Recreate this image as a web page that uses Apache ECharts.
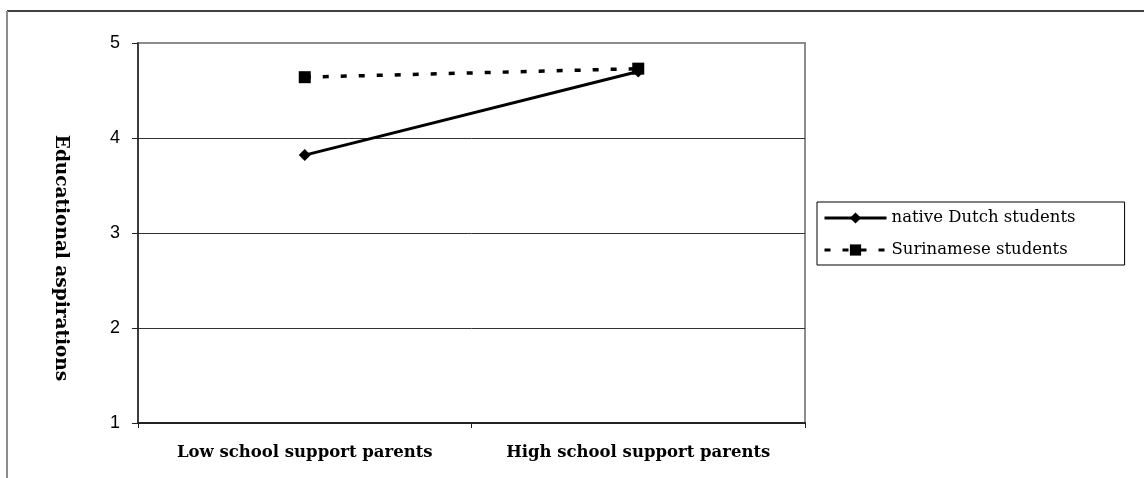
<!DOCTYPE html>
<html>
<head>
<meta charset="utf-8">
<script src="https://cdn.jsdelivr.net/npm/echarts@6/dist/echarts.min.js"></script>
<style>
  html, body { margin: 0; padding: 0; background: #fff; }
  #chart { width: 1144px; height: 478px; }
</style>
</head>
<body>
<div id="chart"></div>
<script>
// Educational aspirations by level of parental school support
const categories = ['Low school support parents', 'High school support parents'];
const dutchValues = [3.82, 4.70];
const surinameseValues = [4.64, 4.73];
const seriesNames = ['native Dutch students', 'Surinamese students'];
const yTicks = { min: 1, max: 5, step: 1 };
const yTitle = 'Educational aspirations';

const serif = 'DejaVu Serif';
const sans = 'Liberation Sans';

const chart = echarts.init(document.getElementById('chart'), null, { renderer: 'canvas' });

chart.setOption({
  animation: false,
  backgroundColor: '#fff',
  grid: {
    left: 138, top: 43, width: 667, height: 380,
    show: true, borderColor: '#8c8c8c', borderWidth: 2, backgroundColor: 'transparent'
  },
  xAxis: {
    type: 'category',
    data: categories,
    boundaryGap: true,
    axisLine: { show: true, lineStyle: { color: '#222', width: 2 } },
    axisTick: { show: true, interval: 0, length: 5, alignWithLabel: false, lineStyle: { color: '#222' } },
    axisLabel: {
      interval: 0, hideOverlap: false,
      color: '#000', fontFamily: serif, fontWeight: 'bold', fontSize: 16.5, margin: 21
    },
    splitLine: { show: false }
  },
  yAxis: {
    type: 'value',
    min: yTicks.min, max: yTicks.max, interval: yTicks.step,
    axisLine: { show: true, lineStyle: { color: '#222', width: 1.5 } },
    axisTick: { show: true, length: 6, lineStyle: { color: '#222' } },
    axisLabel: { color: '#000', fontFamily: sans, fontSize: 18, margin: 18 },
    splitLine: {
      show: true,
      lineStyle: { color: ['#222', '#333', '#333', '#333', '#8c8c8c'], width: 1 }
    }
  },
  legend: {
    orient: 'vertical',
    left: 817, top: 202,
    padding: [6, 49, 5, 6],
    itemGap: 12,
    itemWidth: 62, itemHeight: 14,
    borderColor: '#000', borderWidth: 1,
    lineStyle: { width: 3 },
    textStyle: { color: '#000', fontFamily: serif, fontSize: 16.5, lineHeight: 20 },
    data: seriesNames
  },
  graphic: [
    {
      type: 'line', silent: true,
      shape: { x1: 7, y1: 11, x2: 1144, y2: 11 },
      style: { stroke: '#000', lineWidth: 1.5 }
    },
    {
      type: 'line', silent: true,
      shape: { x1: 7, y1: 11, x2: 7, y2: 478 },
      style: { stroke: '#8c8c8c', lineWidth: 2 }
    },
    {
      type: 'text', silent: true,
      x: 61, y: 258, rotation: -Math.PI / 2,
      style: {
        text: yTitle, fill: '#000', font: 'bold 18.5px "DejaVu Serif"',
        textAlign: 'center', textVerticalAlign: 'middle'
      }
    }
  ],
  series: [
    {
      name: seriesNames[0],
      type: 'line',
      data: dutchValues,
      symbol: 'diamond', symbolSize: 12,
      itemStyle: { color: '#000' },
      lineStyle: { color: '#000', width: 3, type: 'solid' },
      z: 3
    },
    {
      name: seriesNames[1],
      type: 'line',
      data: surinameseValues,
      symbol: 'rect', symbolSize: 12,
      itemStyle: { color: '#000' },
      lineStyle: { color: '#000', width: 3.5, type: [6, 12] },
      z: 4
    }
  ]
});
</script>
</body>
</html>
